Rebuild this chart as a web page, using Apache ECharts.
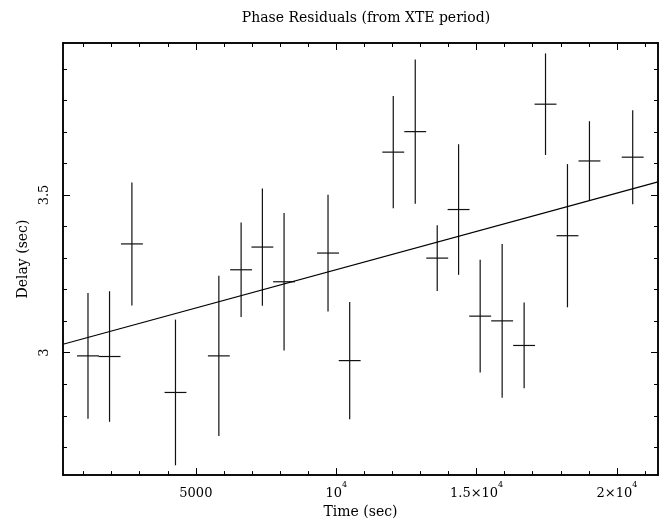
<!DOCTYPE html>
<html>
<head>
<meta charset="utf-8">
<script src="https://cdn.jsdelivr.net/npm/echarts@6/dist/echarts.min.js"></script>
<style>
  html, body { margin: 0; padding: 0; background: #fff; }
  #chart { width: 667px; height: 524px; }
</style>
</head>
<body>
<div id="chart"></div>
<script>
// phase residuals, one bin per point
const timeSec = [1157, 1925, 2722, 4274, 5819, 6612, 7370, 8142, 9708, 10480, 12032,
  12815, 13598, 14359, 15128, 15911, 16694, 17456, 18238, 19021, 20562];
const delaySec = [2.990, 2.988, 3.345, 2.874, 2.990, 3.263, 3.335, 3.225, 3.316, 2.975, 3.636,
  3.701, 3.300, 3.454, 3.116, 3.101, 3.023, 3.788, 3.371, 3.608, 3.620];
const delayErr = [0.199, 0.207, 0.195, 0.231, 0.254, 0.150, 0.186, 0.218, 0.185, 0.186, 0.178,
  0.229, 0.104, 0.207, 0.179, 0.244, 0.136, 0.161, 0.227, 0.126, 0.149];
const binHalfWidth = 390;

// linear fit, drawn across the whole frame
const fitTime = [267, 21463];
const fitDelay = [3.027, 3.5415];

// axis range and ticks
const timeRange = [267, 21463];
const delayRange = [2.612, 3.982];
const xMajorTicks = [5000, 10000, 15000, 20000];
const xMinorTicks = [1000, 2000, 3000, 4000, 5000, 6000, 7000, 8000, 9000, 10000, 11000,
  12000, 13000, 14000, 15000, 16000, 17000, 18000, 19000, 20000, 21000];
const xTickMantissa = ['5000', '10', '1.5×10', '2×10'];
const xTickExponent = ['', '4', '4', '4'];
const yMajorTicks = [3, 3.5];
const yMinorTicks = [2.7, 2.8, 2.9, 3.0, 3.1, 3.2, 3.3, 3.4, 3.5, 3.6, 3.7, 3.8, 3.9];

const FONT = 'DejaVu Serif';
const INK = '#000';

const chart = echarts.init(document.getElementById('chart'));

function xAxisDef(position, ticks, len, withLabels) {
  const ax = {
    type: 'value', position: position, min: timeRange[0], max: timeRange[1],
    splitLine: { show: false },
    axisLine: { show: true, onZero: false, lineStyle: { color: INK, width: 1.5 } },
    axisTick: { show: true, inside: true, length: len, customValues: ticks, lineStyle: { color: INK, width: 1 } },
    axisLabel: { show: false }
  };
  if (withLabels) {
    ax.axisLabel = {
      show: true, customValues: xMajorTicks, margin: 6,
      formatter: function (v) {
        const i = xMajorTicks.indexOf(v);
        if (i < 0) return '';
        return '{m|' + xTickMantissa[i] + '}' + (xTickExponent[i] ? '{s|' + xTickExponent[i] + '}' : '');
      },
      rich: {
        m: { fontFamily: FONT, fontSize: 13, color: INK, lineHeight: 19, verticalAlign: 'bottom' },
        s: { fontFamily: FONT, fontSize: 8, color: INK, lineHeight: 10, verticalAlign: 'top' }
      }
    };
    ax.name = 'Time (sec)';
    ax.nameLocation = 'middle';
    ax.nameGap = 23;
    ax.nameTextStyle = { fontFamily: FONT, fontSize: 14, color: INK };
  }
  return ax;
}

function yAxisDef(position, ticks, len, withLabels) {
  const ax = {
    type: 'value', position: position, min: delayRange[0], max: delayRange[1],
    splitLine: { show: false },
    axisLine: { show: true, onZero: false, lineStyle: { color: INK, width: 1.5 } },
    axisTick: { show: true, inside: true, length: len, customValues: ticks, lineStyle: { color: INK, width: 1 } },
    axisLabel: { show: false }
  };
  if (withLabels) {
    ax.axisLabel = {
      show: true, customValues: yMajorTicks, rotate: 90, margin: 12,
      fontFamily: FONT, fontSize: 13, color: INK,
      formatter: function (v) { return String(v); }
    };
    ax.name = 'Delay (sec)';
    ax.nameLocation = 'middle';
    ax.nameGap = 29;
    ax.nameTextStyle = { fontFamily: FONT, fontSize: 14, color: INK };
  }
  return ax;
}

const points = timeSec.map(function (t, i) {
  return [t, delaySec[i], delayErr[i], binHalfWidth];
});

chart.setOption({
  animation: false,
  backgroundColor: '#fff',
  title: {
    text: 'Phase Residuals (from XTE period)',
    left: 361, top: 6, textAlign: 'center',
    textStyle: { fontFamily: FONT, fontSize: 14, fontWeight: 'normal', color: INK }
  },
  grid: { left: 63, right: 9, top: 43, bottom: 38 },
  xAxis: [
    xAxisDef('bottom', xMajorTicks, 7, true),
    xAxisDef('bottom', xMinorTicks, 4, false),
    xAxisDef('top', xMajorTicks, 7, false),
    xAxisDef('top', xMinorTicks, 4, false)
  ],
  yAxis: [
    yAxisDef('left', yMajorTicks, 7, true),
    yAxisDef('left', yMinorTicks, 4, false),
    yAxisDef('right', yMajorTicks, 7, false),
    yAxisDef('right', yMinorTicks, 4, false)
  ],
  series: [
    {
      type: 'line',
      xAxisIndex: 0, yAxisIndex: 0,
      data: fitTime.map(function (t, i) { return [t, fitDelay[i]]; }),
      showSymbol: false, symbol: 'none',
      lineStyle: { color: INK, width: 1.2 },
      silent: true
    },
    {
      type: 'custom',
      xAxisIndex: 0, yAxisIndex: 0,
      data: points,
      renderItem: function (params, api) {
        const t = api.value(0), d = api.value(1), e = api.value(2), h = api.value(3);
        const top = api.coord([t, d + e]);
        const bot = api.coord([t, d - e]);
        const lft = api.coord([t - h, d]);
        const rgt = api.coord([t + h, d]);
        const st = { stroke: '#111', lineWidth: 1.2 };
        return {
          type: 'group',
          children: [
            { type: 'line', shape: { x1: top[0], y1: top[1], x2: bot[0], y2: bot[1] }, style: st },
            { type: 'line', shape: { x1: lft[0], y1: lft[1], x2: rgt[0], y2: rgt[1] }, style: st }
          ]
        };
      }
    }
  ]
});
</script>
</body>
</html>
